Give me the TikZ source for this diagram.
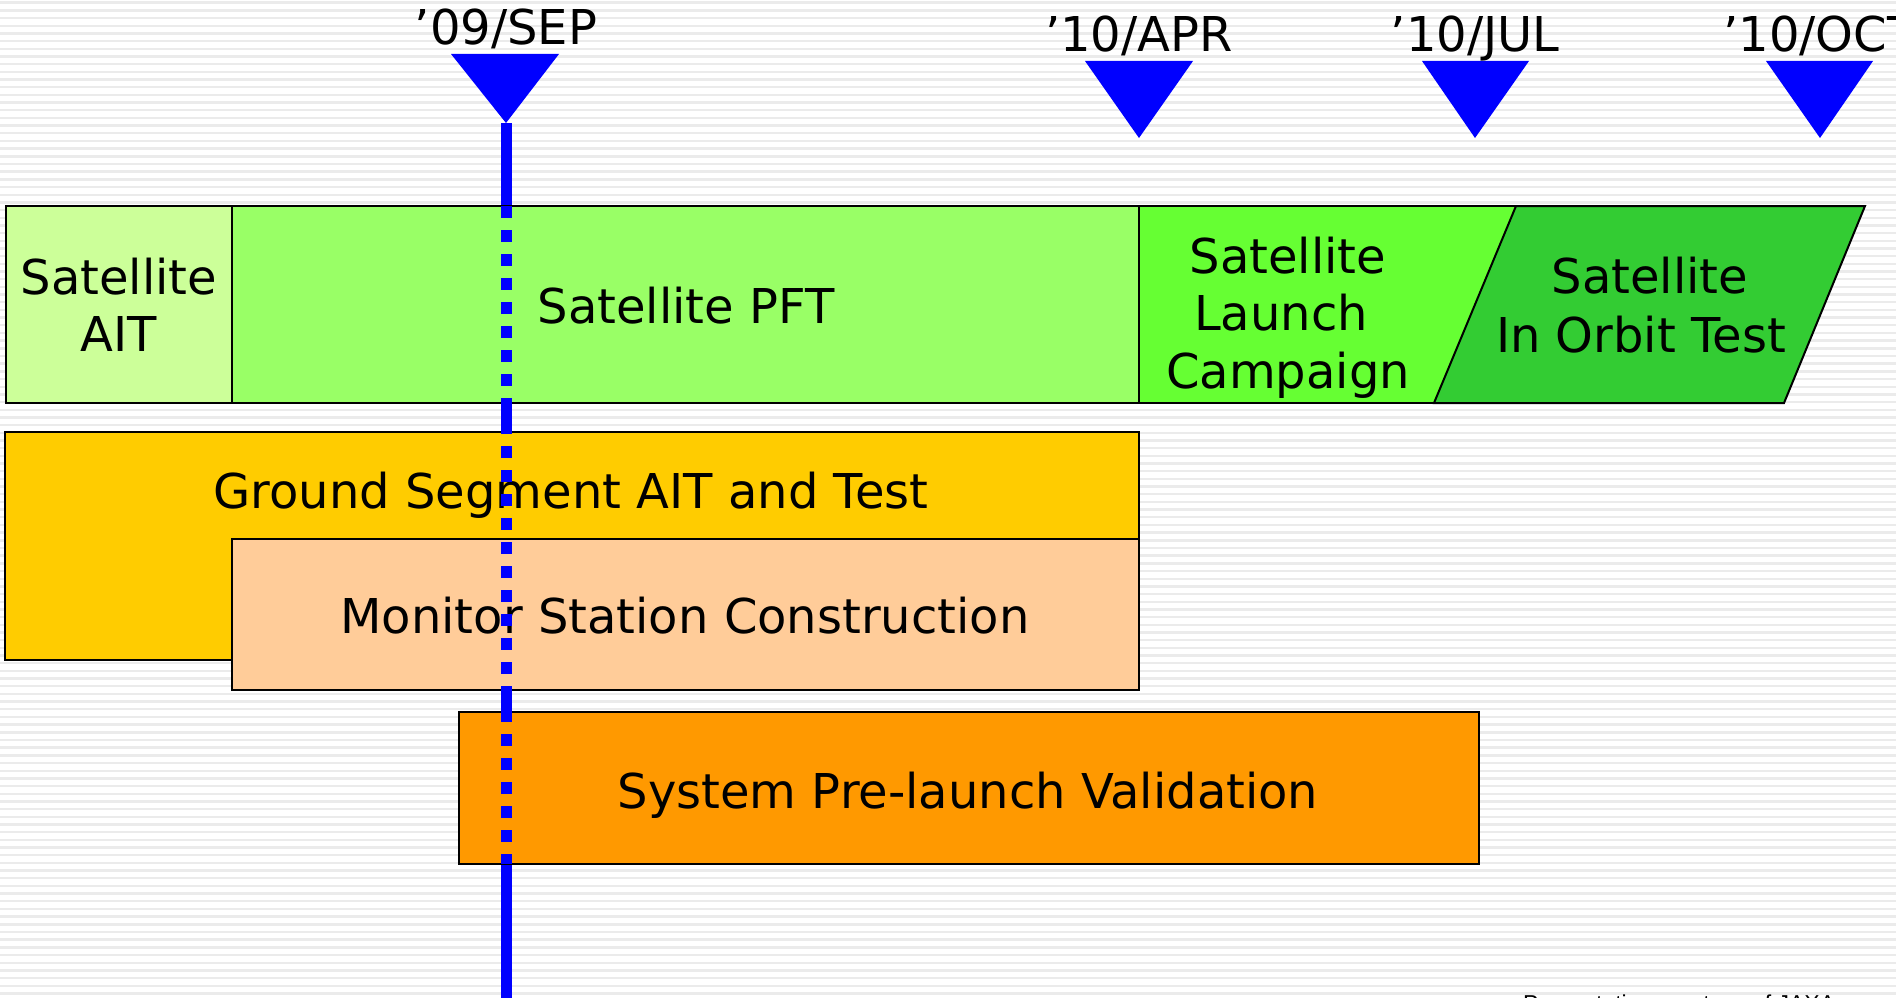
\documentclass[tikz,border=0pt]{standalone}
\usepackage{fontspec}
\setmainfont{DejaVu Sans}
\newfontfamily\footfont{Liberation Sans}
\definecolor{mblue}{HTML}{0000FF}
\definecolor{stripe}{HTML}{EBEBEB}
\definecolor{aitc}{HTML}{CCFF99}
\definecolor{pftc}{HTML}{99FF66}
\definecolor{launchc}{HTML}{66FF33}
\definecolor{iotc}{HTML}{33CC33}
\definecolor{groundc}{HTML}{FFCC00}
\definecolor{monc}{HTML}{FFCC99}
\definecolor{sysc}{HTML}{FF9900}
\begin{document}
\begin{tikzpicture}[x=1pt,y=-1pt,
  bar/.style={draw=black,line width=2pt},
  lbl/.style={font=\fontsize{48}{57.5}\selectfont,inner sep=0pt,anchor=base},
  milestone/.style={fill=mblue},
  timeline/.style={draw=mblue,line width=11pt},
]
\useasboundingbox (0,0) rectangle (1896,998);
\clip (0,0) rectangle (1896,998);
\fill[white] (0,0) rectangle (1896,998);
\foreach \i in {0,...,130} \draw[stripe,line width=2.4pt] (0,{2.7+7.68*\i}) -- (1896,{2.7+7.68*\i});

% coordinates
\coordinate (sepTip) at (506,123);
\coordinate (lineEnd) at (506,1000);
\coordinate (dashStart) at (506,206);
\coordinate (dashEnd) at (506,864);
\coordinate (aprTip) at (1139,138);
\coordinate (julTip) at (1475,138);
\coordinate (octTip) at (1820,138);

% solid time line (behind boxes)
\path[timeline] (sepTip) -- (lineEnd);

% boxes
\draw[bar,fill=aitc] (6,206) rectangle (232,403);
\draw[bar,fill=pftc] (232,206) rectangle (1139,403);
\draw[bar,fill=launchc] (1139,206) rectangle (1548,403);
\draw[bar,fill=iotc] (1516,206) -- (1865,206) -- (1784,403) -- (1434,403) -- cycle;
\draw[bar,fill=groundc] (5,432) rectangle (1139,660);
\draw[bar,fill=monc] (232,539) rectangle (1139,690);
\draw[bar,fill=sysc] (459,712) rectangle (1479,864);

% labels
\node[lbl] (ait1) at (119,294) {Satellite};
\node[lbl] (ait2) at (119,351) {AIT};
\node[lbl] (pft) at (686,323) {Satellite PFT};
\node[lbl] (lc1) at (1288,273) {Satellite};
\node[lbl] (lc2) at (1281,330) {Launch};
\node[lbl] (lc3) at (1288,388) {Campaign};
\node[lbl] (iot1) at (1650,293) {Satellite};
\node[lbl] (iot2) at (1641,352) {In Orbit Test};
\node[lbl] (gs) at (571,508) {Ground Segment AIT and Test};
\node[lbl] (ms) at (685,633) {Monitor Station Construction};
\node[lbl] (sp) at (968,808) {System Pre-launch Validation};

% dashed part of time line (over boxes)
\path[timeline,dash pattern=on 12pt off 12pt] (dashStart) -- (dashEnd);

% milestones
\fill[milestone] (451,54) -- (559,54) -- (sepTip) -- cycle;
\fill[milestone] (1085,61) -- (1193,61) -- (aprTip) -- cycle;
\fill[milestone] (1422,61) -- (1529,61) -- (julTip) -- cycle;
\fill[milestone] (1766,61) -- (1873,61) -- (octTip) -- cycle;
\node[lbl] (dsep) at (506,45) {’09/SEP};
\node[lbl] (dapr) at (1139,52) {’10/APR};
\node[lbl] (djul) at (1475,52) {’10/JUL};
\node[lbl] (doct) at (1820,52) {’10/OCT};

% footer (cut off by the picture edge)
\node[font=\footfont\fontsize{23}{23}\selectfont,anchor=base west,inner sep=0pt] (foot) at (1523,1011.5) {Presentation courtesy of JAXA};
\end{tikzpicture}
\end{document}
